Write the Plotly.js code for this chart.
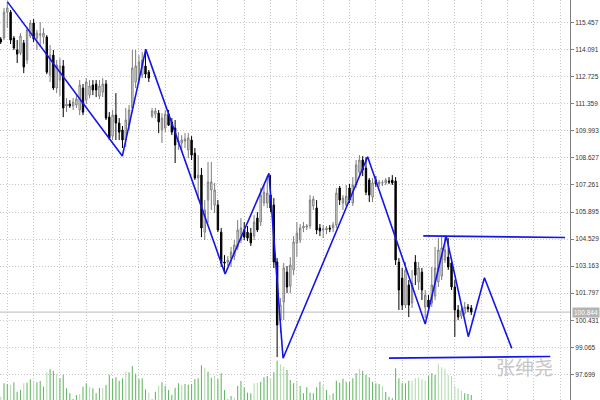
<!DOCTYPE html>
<html><head><meta charset="utf-8">
<script src="https://cdn.plot.ly/plotly-3.0.1.min.js"></script>
<style>html,body{margin:0;padding:0;background:#fff}#chart{width:600px;height:400px}</style>
</head><body><div id="chart"></div>
<script>
const opens = [
114.63,114.68,115.99,115.99,114.68,114.08,113.92,114.43,113.57,114.78,
115.44,114.68,114.83,114.73,114.73,112.81,113.82,112.16,112.56,113.27,
111.25,111.35,111.25,111.30,111.05,112.16,111.55,111.80,112.31,112.36,
111.75,111.95,112.36,110.69,109.73,110.79,110.39,110.04,109.53,110.29,
111.15,112.46,112.56,112.81,113.27,112.96,110.74,110.84,110.89,110.04,
110.14,110.84,110.44,110.14,109.43,109.38,109.48,109.03,109.53,108.87,
107.61,107.76,104.88,106.50,107.01,106.25,106.25,104.88,103.37,103.37,
103.57,103.67,104.13,104.48,104.99,104.88,104.83,104.68,105.59,105.39,
106.35,106.35,106.75,106.25,103.37,100.44,101.35,102.86,102.16,102.97,
104.33,104.48,105.09,105.14,105.19,106.20,106.10,105.09,104.99,104.99,
105.09,105.09,105.24,107.11,106.35,106.25,107.11,106.35,107.26,107.91,
108.52,108.12,107.51,106.65,107.51,107.31,107.36,107.36,107.46,107.51,
107.46,103.37,102.56,101.20,102.21,101.30,103.37,102.36,102.86,101.10,
101.45,101.30,101.65,102.36,102.66,103.47,103.62,103.32,102.11,100.95,
100.64,100.79,101.10,101.05];
const highs = [
114.73,116.20,116.50,116.10,114.78,114.58,114.93,114.58,115.24,115.59,
115.64,115.09,115.49,115.19,114.83,114.33,114.08,113.57,113.67,113.57,
111.65,111.55,111.65,111.80,112.56,112.36,112.66,112.56,112.56,112.56,
112.56,112.66,112.56,110.94,111.05,111.90,110.64,110.24,111.15,111.30,
114.08,114.08,113.82,113.97,114.13,113.07,111.15,111.15,111.05,110.89,
111.05,111.05,110.64,110.54,109.93,109.78,109.88,109.88,109.73,109.13,
108.77,108.12,106.50,108.42,108.42,107.36,106.50,105.09,103.72,103.67,
104.13,104.48,105.49,105.59,105.39,105.19,105.09,105.74,105.89,107.11,
107.26,107.71,107.76,106.60,103.57,101.55,103.32,103.17,103.62,104.68,
105.39,105.29,105.39,105.29,106.75,106.70,106.50,105.29,105.24,105.19,
105.24,105.39,107.11,107.21,106.75,107.26,107.31,107.66,108.52,108.77,
108.72,108.67,107.61,107.61,107.71,107.51,107.51,107.61,107.66,107.76,
107.66,103.57,103.07,103.37,102.46,102.97,103.72,103.37,103.07,101.96,
101.70,103.12,104.13,104.58,104.68,104.73,104.58,103.57,102.46,101.20,
101.05,101.35,101.25,101.20];
const lows = [
114.38,114.58,115.19,114.38,114.08,113.42,113.82,112.91,113.37,114.68,
114.48,114.08,114.23,114.38,112.86,112.46,112.06,111.90,111.75,110.69,
110.94,111.15,111.05,111.15,110.79,110.79,111.35,111.65,111.80,111.70,
111.60,111.70,110.54,109.53,109.53,109.53,109.53,109.13,109.18,110.04,
110.94,112.16,112.36,112.66,112.66,112.46,110.64,110.64,109.88,109.38,
109.93,110.24,109.78,108.37,109.03,108.92,109.13,108.62,108.52,107.51,
106.50,104.63,104.48,105.34,106.00,105.84,104.88,103.12,102.86,103.17,
103.12,103.47,103.98,104.33,104.48,104.43,104.18,104.48,104.88,105.19,
106.20,106.10,105.89,103.07,98.57,99.79,100.44,101.80,101.80,102.71,
103.62,104.33,104.88,104.99,105.04,106.00,104.78,104.68,104.58,104.78,
104.88,104.88,105.09,106.25,106.00,106.15,106.35,106.20,107.11,107.66,
107.71,106.75,106.40,106.40,107.16,107.16,107.21,107.26,107.31,107.26,
103.22,100.95,100.95,101.05,100.59,101.05,102.21,101.96,101.45,100.54,
100.84,101.10,101.45,102.11,102.46,103.32,102.97,101.96,99.59,100.44,
100.49,100.69,100.84,100.69];
const closes = [
114.48,115.99,116.20,114.58,114.18,113.87,114.78,113.22,115.09,115.44,
114.63,114.93,114.88,114.93,112.96,113.82,112.16,113.32,113.27,111.15,
111.35,111.25,111.45,111.60,112.31,110.94,112.46,112.26,112.06,112.06,
112.26,112.36,110.64,109.63,110.79,110.39,109.93,109.53,110.54,111.05,
113.17,113.27,113.47,113.57,112.86,112.66,111.00,111.00,110.44,110.64,
110.84,110.29,109.93,109.28,109.48,109.53,109.58,109.63,108.77,107.61,
107.76,105.09,106.00,107.41,107.41,107.01,104.99,103.32,103.32,103.47,
103.87,104.23,104.99,105.09,104.63,104.58,104.33,105.39,104.99,106.75,
106.90,106.85,106.10,103.37,100.19,101.20,103.07,102.11,103.22,104.38,
104.83,105.09,105.19,105.19,106.50,106.55,104.99,104.94,105.04,105.09,
105.04,105.24,106.85,106.50,106.60,106.70,106.50,107.26,108.27,108.52,
108.02,106.90,106.75,107.36,107.31,107.41,107.38,107.51,107.41,107.36,
103.47,101.96,101.20,102.97,101.20,102.31,102.71,103.07,101.96,101.70,
101.10,102.21,103.07,103.98,104.08,103.98,103.12,102.11,100.95,100.59,
100.90,101.10,101.00,100.844];
const volumes = [
165,835,800,750,885,415,500,835,865,1035,
965,885,950,665,1385,1535,1450,1300,1085,1250,
585,335,60,250,300,665,835,665,585,335,
600,600,750,1250,1065,1135,965,1085,1415,1385,
1700,1315,1050,1085,535,365,40,415,715,885,
700,500,250,615,835,750,800,765,800,1050,
1085,1735,1615,1415,1115,1200,1050,1335,500,40,
200,115,700,950,635,365,335,835,865,915,
1135,1200,1065,1385,1965,1785,1665,1500,1000,835,
965,700,335,635,365,335,635,915,735,500,
250,335,965,865,1065,915,900,1085,1335,1565,
1450,1250,1135,915,835,800,700,400,165,85,
1585,1085,865,835,965,965,1085,1135,1035,965,
1200,1335,1250,1785,1635,1565,1250,1200,700,585,
465,335,300,250];
const fadedVolumeBars = [0,3,7,10,14,17,24,27,31,38,45,48,55,62,65,71,77,78,82,85,86,90,98,100,109,116,125,126,127,128,129,133,134,135,136,137,138,139,140];
const priceTicks = [97.699,99.065,100.431,101.797,103.163,104.529,105.895,107.261,108.627,109.993,111.359,112.725,114.091,115.457];
const lastPrice = 100.844;
const zigzagBar = [2, 36.95, 44.07, 68.2, 81.5, 85.8, 111.5, 129.0, 135.4, 142.1, 147.0, 155.3];
const zigzagPrice = [116.52, 108.72, 114.11, 102.77, 107.85, 98.51, 108.69, 100.24, 104.68, 99.60, 102.58, 99.01];
const resistanceBar = [128.4, 171.5];
const resistancePrice = [104.69, 104.61];
const supportBar = [118.0, 167.0];
const supportPrice = [98.52, 98.60];
const watermark = '张绅尧';

const bars = opens.map((_, i) => i);
const volColors = bars.map(i => fadedVolumeBars.includes(i) ? '#b6dcb0' : '#66b866');
const blue = '#1414f0';

const traces = [
  {type:'bar', x:bars, y:volumes, yaxis:'y2', width:0.33, marker:{color:volColors, line:{width:0}}, hoverinfo:'skip'},
  {type:'candlestick', x:bars, open:opens, high:highs, low:lows, close:closes, whiskerwidth:0,
   increasing:{line:{color:'#7c7c7c', width:1}, fillcolor:'#ffffff'},
   decreasing:{line:{color:'#000000', width:1}, fillcolor:'#000000'}, hoverinfo:'skip'},
  {type:'scatter', mode:'lines', x:zigzagBar, y:zigzagPrice, line:{color:blue, width:1.6}, hoverinfo:'skip'},
  {type:'scatter', mode:'lines', x:resistanceBar, y:resistancePrice, line:{color:blue, width:1.6}, hoverinfo:'skip'},
  {type:'scatter', mode:'lines', x:supportBar, y:supportPrice, line:{color:blue, width:1.6}, hoverinfo:'skip'}
];

const gridColor = '#c6c6c6';
const layout = {
  width:600, height:400, margin:{l:0, r:30, t:0, b:0, pad:0},
  paper_bgcolor:'#ffffff', plot_bgcolor:'#ffffff', showlegend:false, hovermode:false,
  boxgap:0.4,
  xaxis:{range:[-0.22, 173.0], tickmode:'linear', tick0:2, dtick:8, showticklabels:false, ticks:'',
    showgrid:true, gridcolor:gridColor, griddash:'1px,2px', gridwidth:1, zeroline:false, showline:false,
    rangeslider:{visible:false}, fixedrange:true},
  yaxis:{range:[96.403, 116.603], side:'right', tickmode:'array', tickvals:priceTicks,
    ticktext:priceTicks.map(v => v.toFixed(3)), ticks:'outside', ticklen:3, tickcolor:'#808080',
    tickfont:{family:'Liberation Sans, Arial, sans-serif', size:6.5, color:'#333333'},
    showgrid:true, gridcolor:gridColor, griddash:'1px,2px', gridwidth:1,
    showline:true, linecolor:'#808080', linewidth:1, zeroline:false, automargin:false, fixedrange:true},
  yaxis2:{overlaying:'y', range:[0, 20000], visible:false, fixedrange:true},
  shapes:[{type:'line', xref:'paper', x0:0, x1:1, yref:'y', y0:lastPrice, y1:lastPrice,
    line:{color:'#c8c8c8', width:1.2}, layer:'below'}],
  annotations:[
    {xref:'paper', x:1, xanchor:'left', xshift:2, yref:'y', y:lastPrice, yanchor:'middle',
     text:lastPrice.toFixed(3), showarrow:false, bgcolor:'#b4b4b4', borderpad:1,
     font:{family:'Liberation Sans, Arial, sans-serif', size:6.5, color:'#ffffff'}},
    {xref:'paper', x:524/570, xanchor:'center', yref:'paper', y:1-366/400, yanchor:'middle',
     text:watermark, showarrow:false,
     font:{family:'Noto Sans CJK SC, sans-serif', size:19, color:'#c6c6c6'}}
  ]
};
Plotly.newPlot('chart', traces, layout, {staticPlot:true, displayModeBar:false});
</script></body></html>
